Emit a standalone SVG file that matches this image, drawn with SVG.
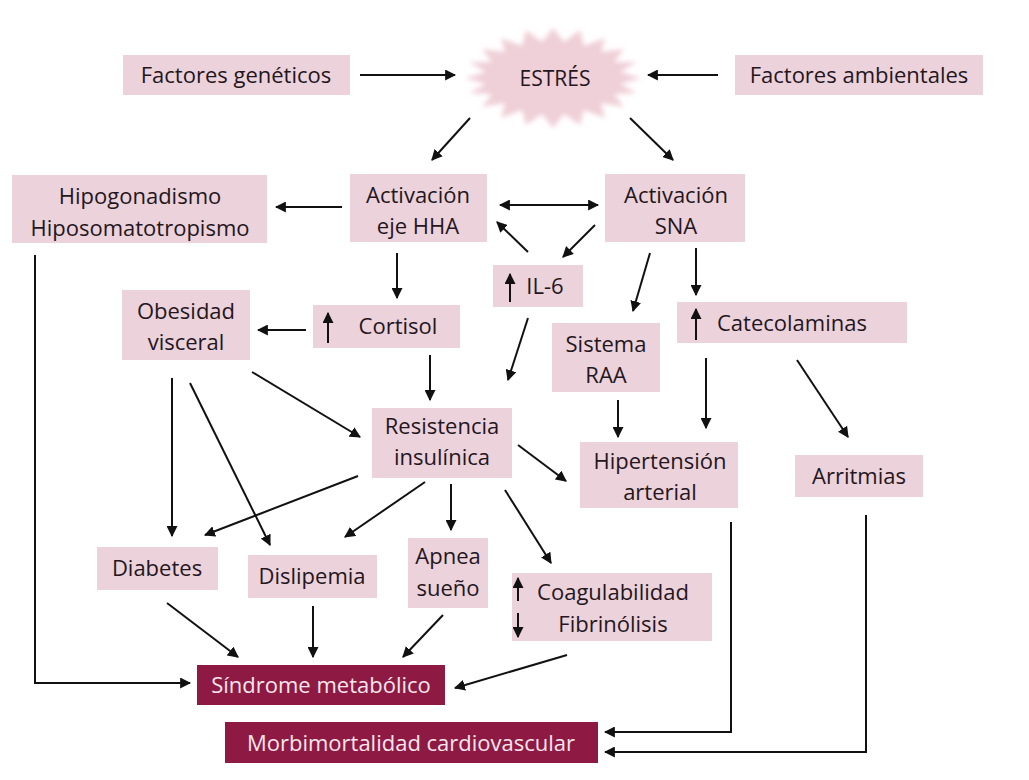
<svg xmlns="http://www.w3.org/2000/svg" width="1029" height="780" viewBox="0 0 1029 780">
<style>
.box{fill:#ecd2da}
.dark{fill:#8e1a44}
text{font-family:"Open Sans","Noto Sans",sans-serif;font-size:22px;fill:#24161d;text-anchor:middle}
.w{fill:#f7e6ec}
.c{fill:none;stroke:#111;stroke-width:2}
.s{fill:none;stroke:#111;stroke-width:2}
</style>
<defs>
<marker id="ah" viewBox="0 0 10 10" refX="9" refY="5" markerWidth="5.5" markerHeight="5.5" orient="auto-start-reverse">
<path d="M0,0 L10,5 L0,10 Z" fill="#111"/>
</marker>
<filter id="bl" x="-10%" y="-20%" width="120%" height="140%"><feGaussianBlur stdDeviation="2.5"/></filter>
</defs>
<rect width="1029" height="780" fill="#ffffff"/>

<g id="factores-geneticos"><rect class="box" x="123" y="55" width="227" height="40"/><text x="236" y="83">Factores genéticos</text></g>
<g id="factores-ambientales"><rect class="box" x="735" y="55" width="248" height="40"/><text x="859" y="83">Factores ambientales</text></g>
<g id="estres">
<polygon filter="url(#bl)" fill="#efcfd8" points="641,78 620,84 637,93 614,94 624,107 601,103 605,118 584,110 580,125 564,114 553,128 542,114 526,125 522,110 501,118 505,103 482,107 492,94 469,93 486,84 465,78 486,72 469,62 492,62 482,49 505,52 501,38 522,46 526,30 542,42 553,28 564,42 580,30 584,46 605,38 601,52 624,49 614,62 637,62 620,72"/>
<text x="555" y="86" style="font-size:21px">ESTRÉS</text></g>
<g id="hipogonadismo"><rect class="box" x="12" y="175" width="255" height="68"/><text x="140" y="204">Hipogonadismo</text><text x="140" y="236">Hiposomatotropismo</text></g>
<g id="activacion-hha"><rect class="box" x="350" y="174" width="137" height="68"/><text x="418" y="203">Activación</text><text x="418" y="234">eje HHA</text></g>
<g id="activacion-sna"><rect class="box" x="605" y="174" width="140" height="68"/><text x="676" y="203">Activación</text><text x="676" y="234">SNA</text></g>
<g id="il6"><rect class="box" x="493" y="265" width="90" height="42"/><path class="s" d="M510,302 V274" marker-end="url(#ah)"/><text x="545" y="294">IL-6</text></g>
<g id="cortisol"><rect class="box" x="313" y="305" width="147" height="43"/><path class="s" d="M328,343 V313" marker-end="url(#ah)"/><text x="398" y="334">Cortisol</text></g>
<g id="obesidad"><rect class="box" x="122" y="290" width="128" height="70"/><text x="186" y="319">Obesidad</text><text x="186" y="350">visceral</text></g>
<g id="sistema-raa"><rect class="box" x="552" y="323" width="108" height="69"/><text x="606" y="352">Sistema</text><text x="606" y="383">RAA</text></g>
<g id="catecolaminas"><rect class="box" x="677" y="302" width="230" height="41"/><path class="s" d="M696,340 V309" marker-end="url(#ah)"/><text x="792" y="331">Catecolaminas</text></g>
<g id="resistencia"><rect class="box" x="372" y="408" width="140" height="70"/><text x="442" y="434">Resistencia</text><text x="442" y="465">insulínica</text></g>
<g id="hipertension"><rect class="box" x="580" y="442" width="158" height="66"/><text x="660" y="469">Hipertensión</text><text x="660" y="500">arterial</text></g>
<g id="arritmias"><rect class="box" x="795" y="455" width="128" height="42"/><text x="859" y="484">Arritmias</text></g>
<g id="diabetes"><rect class="box" x="97" y="547" width="121" height="43"/><text x="157" y="576">Diabetes</text></g>
<g id="dislipemia"><rect class="box" x="248" y="555" width="129" height="43"/><text x="312" y="584">Dislipemia</text></g>
<g id="apnea"><rect class="box" x="408" y="538" width="80" height="70"/><text x="448" y="564">Apnea</text><text x="448" y="596">sueño</text></g>
<g id="coagulabilidad"><rect class="box" x="512" y="573" width="200" height="68"/><path class="s" d="M518,601 V578" marker-end="url(#ah)"/><path class="s" d="M518,613 V637" marker-end="url(#ah)"/><text x="613" y="600">Coagulabilidad</text><text x="613" y="632">Fibrinólisis</text></g>
<g id="sindrome"><rect class="dark" x="197" y="665" width="248" height="40"/><text class="w" x="321" y="693">Síndrome metabólico</text></g>
<g id="morbimortalidad"><rect class="dark" x="225" y="722" width="373" height="41"/><text class="w" x="411" y="751">Morbimortalidad cardiovascular</text></g>

<g id="connectors" marker-end="url(#ah)">
<path class="c" d="M360,75 H455"/>
<path class="c" d="M718,75 H648"/>
<path class="c" d="M470,118 L432,160"/>
<path class="c" d="M630,118 L673,160"/>
<path class="c" d="M342,207 H276"/>
<path class="c" d="M500,205 H598" marker-start="url(#ah)"/>
<path class="c" d="M528,252 L497,222"/>
<path class="c" d="M595,225 L563,257"/>
<path class="c" d="M397,253 V298"/>
<path class="c" d="M650,253 L633,311"/>
<path class="c" d="M696,248 V295"/>
<path class="c" d="M306,330 H258"/>
<path class="c" d="M430,355 V400"/>
<path class="c" d="M528,318 L508,380"/>
<path class="c" d="M252,372 L360,437"/>
<path class="c" d="M172,378 V536"/>
<path class="c" d="M190,383 L270,545"/>
<path class="c" d="M358,476 L205,535"/>
<path class="c" d="M425,482 L345,537"/>
<path class="c" d="M451,484 V530"/>
<path class="c" d="M505,490 L551,563"/>
<path class="c" d="M518,445 L566,481"/>
<path class="c" d="M618,400 V437"/>
<path class="c" d="M706,358 V428"/>
<path class="c" d="M797,360 L848,437"/>
<path class="c" d="M167,603 L238,657"/>
<path class="c" d="M313,606 V657"/>
<path class="c" d="M443,615 L403,657"/>
<path class="c" d="M567,655 L455,688"/>
<path class="c" d="M35,255 V683 H190" stroke-width="1.5"/>
<path class="c" d="M731,522 V732 H605" stroke-width="1.5"/>
<path class="c" d="M866,515 V752 H605" stroke-width="1.5"/>
</g>
</svg>
